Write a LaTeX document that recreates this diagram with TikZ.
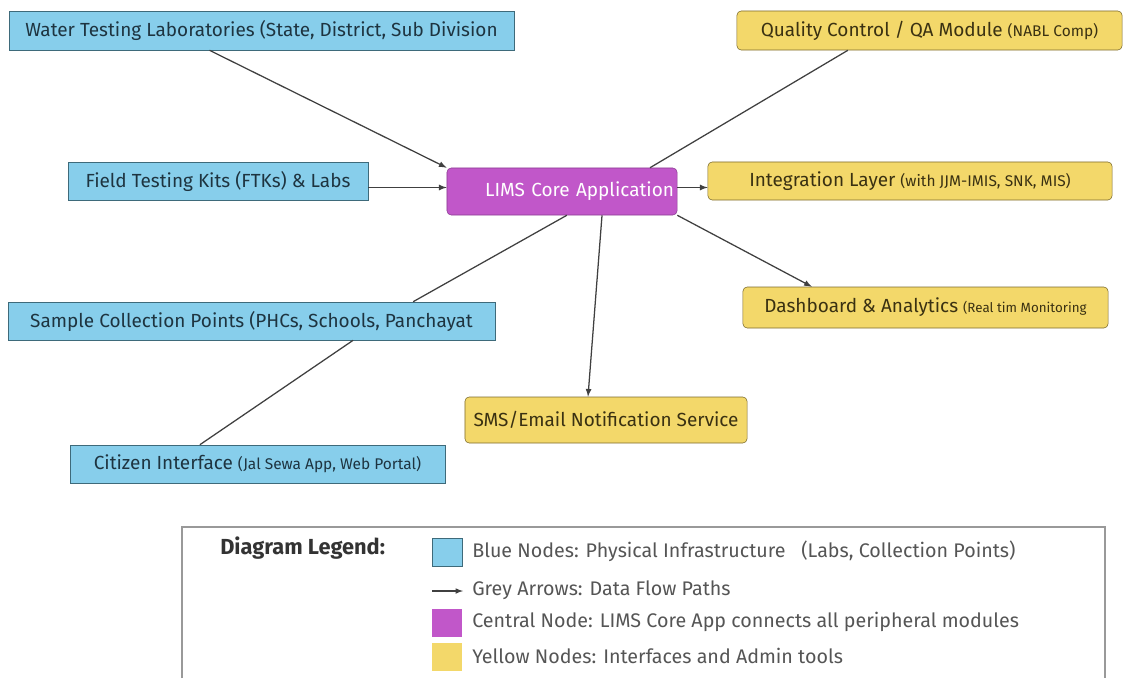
\documentclass[tikz,border=0pt]{standalone}
\usepackage{fontspec}
\setmainfont{Fira Sans}
\usepackage{tikz}
\usetikzlibrary{shapes.geometric, arrows}
\usetikzlibrary{positioning, calc}

\definecolor{infrablue}{HTML}{87CEEB}
\definecolor{infraline}{HTML}{3E6A7A}
\definecolor{infratext}{HTML}{1E3440}
\definecolor{ifaceyellow}{HTML}{F3D86A}
\definecolor{ifaceline}{HTML}{7C6B2E}
\definecolor{ifacetext}{HTML}{3A3112}
\definecolor{corepurple}{HTML}{C157C9}
\definecolor{coreline}{HTML}{8B3C92}
\definecolor{flowgrey}{HTML}{404040}
\definecolor{legendgrey}{HTML}{555555}

\newcommand{\detailtxt}[1]{{\fontsize{11}{12}\selectfont #1}}
\newcommand{\tinytxt}[1]{{\fontsize{9.5}{11}\selectfont #1}}

\tikzstyle{infra} = [rectangle, inner sep=0pt, text centered, draw=infraline, fill=infrablue, text=infratext, font=\fontsize{13.5}{15}\selectfont]
\tikzstyle{iface} = [rectangle, rounded corners=3pt, inner sep=0pt, text centered, draw=ifaceline, fill=ifaceyellow, text=ifacetext, font=\fontsize{13.5}{15}\selectfont]
\tikzstyle{core} = [rectangle, rounded corners=3pt, inner sep=0pt, draw=coreline, fill=corepurple, text=white, font=\fontsize{13.5}{15}\selectfont]
\tikzstyle{flow} = [->, >=latex, draw=flowgrey, line width=0.9pt]
\tikzstyle{link} = [draw=flowgrey, line width=0.9pt]
\tikzstyle{swatch} = [rectangle, minimum width=0.75cm, minimum height=0.7cm, inner sep=0pt]
\tikzstyle{legendtext} = [anchor=west, inner sep=0pt, text=legendgrey, font=\fontsize{14}{16}\selectfont]

\begin{document}
\begin{tikzpicture}[x=0.025cm, y=-0.025cm]
        \useasboundingbox (0,0) rectangle (1124,678);

        % physical infrastructure
        \node[infra, minimum width=12.625cm, minimum height=0.975cm] (water) at (261.5,30.5) {Water Testing Laboratories (State, District, Sub Division};
        \node[infra, minimum width=7.5cm, minimum height=0.95cm] (field) at (218,181) {Field Testing Kits (FTKs) \& Labs};
        \node[infra, minimum width=12.175cm, minimum height=0.95cm] (sample) at (251.5,321) {Sample Collection Points (PHCs, Schools, Panchayat};
        \node[infra, minimum width=9.375cm, minimum height=0.95cm] (citizen) at (257.5,464) {Citizen Interface \detailtxt{(Jal Sewa App, Web Portal)}};

        % central node
        \node[core, minimum width=5.75cm, minimum height=1.175cm, text width=5.6cm, align=right] (lims) at (562,191.5) {LIMS Core Application};

        % interfaces and admin tools
        \node[iface, minimum width=9.625cm, minimum height=0.975cm] (qc) at (929.5,30.5) {Quality Control / QA Module \detailtxt{(NABL Comp)}};
        \node[iface, minimum width=10.1cm, minimum height=0.95cm] (integ) at (910,181) {Integration Layer \detailtxt{(with JJM-IMIS, SNK, MIS)}};
        \node[iface, minimum width=9.125cm, minimum height=1.025cm] (dash) at (925.5,307.5) {Dashboard \& Analytics \tinytxt{(Real tim Monitoring}};
        \node[iface, minimum width=7.05cm, minimum height=1.15cm] (sms) at (606,420) {SMS/Email Notification Service};

        % data flow
        \draw [flow] ([xshift=-1.3cm]water.south) -- (lims.north west);
        \draw [link] ([xshift=-2.04cm]qc.south) -- ([xshift=2.2cm]lims.north);
        \draw [flow] ([yshift=0.1cm]lims.west -| field.east) -- ([yshift=0.1cm]lims.west);
        \draw [flow] ([yshift=0.1cm]lims.east) -- ([yshift=0.1cm]lims.east -| integ.west);
        \draw [flow] (lims.south east) -- ([xshift=-2.84cm]dash.north);
        \draw [flow] ([xshift=1cm]lims.south) -- ([xshift=-0.45cm]sms.north);
        \draw [link] ([xshift=0.12cm]lims.south) -- ([xshift=4.04cm]sample.north);
        \draw [link] ([xshift=2.54cm]sample.south) -- ([xshift=-1.44cm]citizen.north);

        % legend
        \draw [draw=gray!80, line width=1pt] (182,678) -- (182,527) -- (1105,527) -- (1105,678);
        \node[anchor=west, inner sep=0pt, font=\bfseries\fontsize{15.5}{17}\selectfont, text=black!80] (legtitle) at (220,548) {Diagram Legend:};
        \node[swatch, fill=infrablue, draw=infraline] (keyblue) at (447,552) {};
        \node[legendtext] (txtblue) at (472,551) {Blue Nodes: Physical Infrastructure \ \ (Labs, Collection Points)};
        \coordinate (arrowstart) at (432,591);
        \coordinate (arrowend) at (463,591);
        \draw [flow, line width=0.8pt] (arrowstart) -- (arrowend);
        \node[legendtext] (txtarrow) at (472,590) {Grey Arrows: Data Flow Paths};
        \node[swatch, fill=corepurple] (keypurple) at (447,623) {};
        \node[legendtext] (txtpurple) at (472,622) {Central Node: LIMS Core App connects all peripheral modules};
        \node[swatch, fill=ifaceyellow] (keyyellow) at (447,657) {};
        \node[legendtext] (txtyellow) at (472,656) {Yellow Nodes: Interfaces and Admin tools};

    \end{tikzpicture}
\end{document}
